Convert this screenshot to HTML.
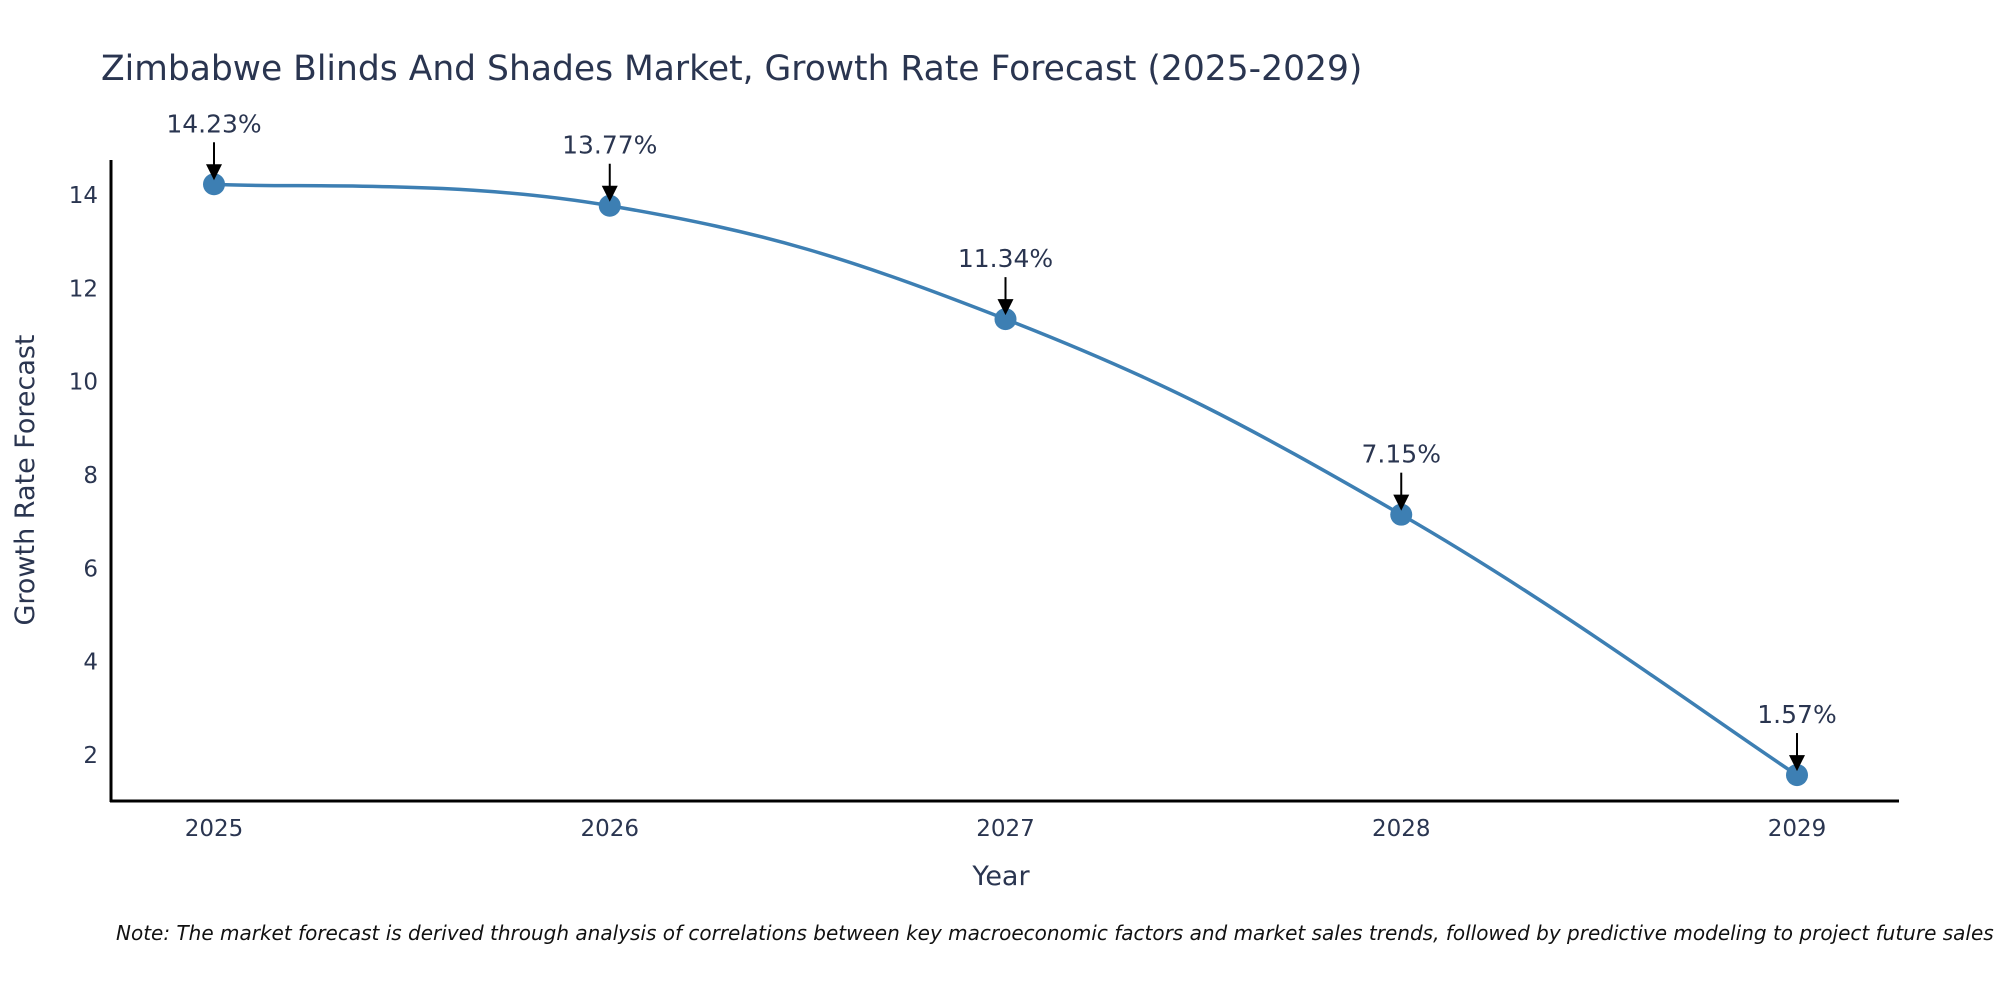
<!DOCTYPE html>
<html><head><meta charset="utf-8"><style>
body{margin:0;background:#fff}
svg{display:block;font-family:"DejaVu Sans","Liberation Sans",sans-serif}
</style></head><body>
<svg id="chart" width="2000" height="1000" viewBox="0 0 2000 1000">
<text x="101" y="80" font-size="34.5" fill="#2a3550">Zimbabwe Blinds And Shades Market, Growth Rate Forecast (2025-2029)</text>
<g id="axes"></g>
<g id="series"></g>
<text x="1001" y="885" font-size="27" fill="#2a3550" text-anchor="middle">Year</text>
<text transform="translate(34,480) rotate(-90)" font-size="27" fill="#2a3550" text-anchor="middle">Growth Rate Forecast</text>
<text x="116" y="940" font-size="20" font-style="italic" fill="#111">Note: The market forecast is derived through analysis of correlations between key macroeconomic factors and market sales trends, followed by predictive modeling to project future sales</text>
</svg>
<script>
const years=[2025,2026,2027,2028,2029];
const values=[14.23,13.77,11.34,7.15,1.57];
const labels=["14.23%","13.77%","11.34%","7.15%","1.57%"];
const yTicks=[2,4,6,8,10,12,14];
const NS="http://www.w3.org/2000/svg";
const X=v=>214+(v-2025)*(1797-214)/4;
const Y=v=>755-(v-2)*(755-195)/12;
function mk(t,a,p){const e=document.createElementNS(NS,t);for(const k in a)e.setAttribute(k,a[k]);p.appendChild(e);return e;}
const ax=document.getElementById('axes'),se=document.getElementById('series');
const yl=mk('line',{x1:111,y1:160,x2:111,y2:802,stroke:'#000','stroke-width':3},ax);


const xl=mk('line',{x1:110,y1:801,x2:1899,y2:801,stroke:'#000','stroke-width':3},ax);


yTicks.forEach(v=>{const t=mk('text',{x:98,y:Y(v)+8,'font-size':23,fill:'#2a3550','text-anchor':'end'},ax);t.textContent=v;

});
years.forEach(v=>{const t=mk('text',{x:X(v),y:836,'font-size':23,fill:'#2a3550','text-anchor':'middle'},ax);t.textContent=v;

});
const pts=years.map((y,i)=>[X(y),Y(values[i])]);
let d=`M${pts[0][0]},${pts[0][1]}`;
for(let i=0;i<pts.length-1;i++){const p0=pts[Math.max(0,i-1)],p1=pts[i],p2=pts[i+1],p3=pts[Math.min(pts.length-1,i+2)];const k=0.2;
d+=` C${p1[0]+(p2[0]-p0[0])*k},${p1[1]+(p2[1]-p0[1])*k} ${p2[0]-(p3[0]-p1[0])*k},${p2[1]-(p3[1]-p1[1])*k} ${p2[0]},${p2[1]}`;}
const ln=mk('path',{d:d,fill:'none',stroke:'#3d7fb3','stroke-width':3.5},se);


pts.forEach((p,i)=>{
const c=mk('circle',{cx:p[0],cy:p[1],r:11,fill:'#3d7fb3'},se);


const a=mk('line',{x1:p[0],y1:p[1]-42,x2:p[0],y2:p[1]-16,stroke:'#000','stroke-width':2},se);


const h=mk('polygon',{points:`${p[0]-8},${p[1]-20} ${p[0]+8},${p[1]-20} ${p[0]},${p[1]-4}`,fill:'#000'},se);


const t=mk('text',{x:p[0],y:p[1]-52,'font-size':25,fill:'#2a3550','text-anchor':'middle'},se);t.textContent=labels[i];


});
</script>
</body></html>
